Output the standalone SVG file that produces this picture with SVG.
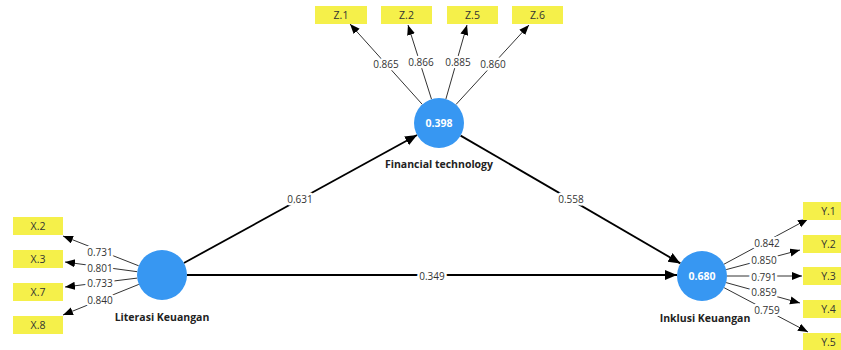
<svg xmlns="http://www.w3.org/2000/svg" width="841" height="350" viewBox="0 0 841 350">
<defs>
<marker id="ah" markerUnits="userSpaceOnUse" markerWidth="11" markerHeight="9" refX="10" refY="4" orient="auto">
<path d="M0,0 L10,4 L0,8 z" fill="#000"/>
</marker>
<marker id="ahb" markerUnits="userSpaceOnUse" markerWidth="13" markerHeight="11" refX="12" refY="5" orient="auto">
<path d="M0,0 L12,5 L0,10 z" fill="#000"/>
</marker>
</defs>
<style>
.ind rect{fill:#f5f04a;}
.ind text{font-family:"Segoe UI","Open Sans","Noto Sans",sans-serif;font-size:10.5px;fill:#333;text-anchor:middle;dominant-baseline:central;}
.lv circle{fill:#3797f2;}
.lv .v{font-family:"Open Sans","Noto Sans",sans-serif;font-size:10.5px;font-weight:bold;fill:#fff;text-anchor:middle;dominant-baseline:central;}
.lv .n{font-family:"Open Sans","Noto Sans",sans-serif;font-size:10.5px;font-weight:bold;fill:#222;text-anchor:middle;dominant-baseline:central;}
.ld{stroke:#333;stroke-width:1;fill:none;marker-end:url(#ah);}
.st{stroke:#000;stroke-width:1.8;fill:none;marker-end:url(#ahb);}
.lab{font-family:"Segoe UI","Open Sans","Noto Sans",sans-serif;font-size:10px;fill:#333;text-anchor:middle;dominant-baseline:central;stroke:#fff;stroke-width:5;paint-order:stroke;stroke-linejoin:round;}
</style>
<rect width="841" height="350" fill="#fff"/>
<g id="connectors">
<line class="st" x1="183.9" y1="263" x2="417.1" y2="135"/>
<line class="st" x1="460.6" y1="135.6" x2="680.4" y2="263.4"/>
<line class="st" x1="187" y1="275" x2="677" y2="275"/>
<line class="ld" x1="422.3" y1="104.4" x2="350" y2="24"/>
<line class="ld" x1="431.5" y1="99.2" x2="408" y2="25"/>
<line class="ld" x1="445.9" y1="99" x2="467" y2="25"/>
<line class="ld" x1="455.9" y1="104.6" x2="529" y2="25"/>
<line class="ld" x1="138.7" y1="265.8" x2="63" y2="236"/>
<line class="ld" x1="137.2" y1="271.7" x2="65" y2="262"/>
<line class="ld" x1="137.2" y1="278.1" x2="65" y2="287"/>
<line class="ld" x1="138.8" y1="284.4" x2="63" y2="315"/>
<line class="ld" x1="724" y1="264.2" x2="808" y2="219"/>
<line class="ld" x1="726.2" y1="269.6" x2="800" y2="250"/>
<line class="ld" x1="727" y1="276" x2="802" y2="276"/>
<line class="ld" x1="726.1" y1="282.6" x2="800" y2="303"/>
<line class="ld" x1="724.1" y1="287.7" x2="808" y2="332"/>
<text class="lab" x="300" y="199">0.631</text>
<text class="lab" x="571" y="199">0.558</text>
<text class="lab" x="432" y="276">0.349</text>
<text class="lab" x="386" y="64">0.865</text>
<text class="lab" x="421" y="62">0.866</text>
<text class="lab" x="458" y="62">0.885</text>
<text class="lab" x="493" y="64">0.860</text>
<text class="lab" x="100" y="252">0.731</text>
<text class="lab" x="100" y="268">0.801</text>
<text class="lab" x="100" y="283">0.733</text>
<text class="lab" x="100" y="300">0.840</text>
<text class="lab" x="767" y="243">0.842</text>
<text class="lab" x="764" y="260">0.850</text>
<text class="lab" x="764" y="277">0.791</text>
<text class="lab" x="764" y="292">0.859</text>
<text class="lab" x="767" y="310">0.759</text>
</g>
<g id="fintech" class="lv"><circle cx="439" cy="123" r="25"/><text class="v" x="439" y="123">0.398</text><text class="n" x="439" y="164">Financial technology</text></g>
<g id="literasi" class="lv"><circle cx="162" cy="275" r="25"/><text class="n" x="162" y="317">Literasi Keuangan</text></g>
<g id="inklusi" class="lv"><circle cx="702" cy="276" r="25"/><text class="v" x="702" y="276">0.680</text><text class="n" x="705" y="318">Inklusi Keuangan</text></g>
<g id="Z1" class="ind"><rect x="315" y="6" width="52" height="18"/><text x="341" y="15">Z.1</text></g>
<g id="Z2" class="ind"><rect x="381" y="6" width="51" height="18"/><text x="406.5" y="15">Z.2</text></g>
<g id="Z5" class="ind"><rect x="447" y="6" width="51" height="18"/><text x="472.5" y="15">Z.5</text></g>
<g id="Z6" class="ind"><rect x="512" y="6" width="51" height="18"/><text x="537.5" y="15">Z.6</text></g>
<g id="X2" class="ind"><rect x="13" y="217" width="50" height="18"/><text x="38" y="226">X.2</text></g>
<g id="X3" class="ind"><rect x="13" y="250" width="50" height="18"/><text x="38" y="259">X.3</text></g>
<g id="X7" class="ind"><rect x="13" y="283" width="50" height="18"/><text x="38" y="292">X.7</text></g>
<g id="X8" class="ind"><rect x="13" y="316" width="50" height="18"/><text x="38" y="325">X.8</text></g>
<g id="Y1" class="ind"><rect x="803" y="202" width="51" height="18"/><text x="828.5" y="211">Y.1</text></g>
<g id="Y2" class="ind"><rect x="803" y="235" width="51" height="18"/><text x="828.5" y="244">Y.2</text></g>
<g id="Y3" class="ind"><rect x="803" y="267" width="51" height="18"/><text x="828.5" y="276">Y.3</text></g>
<g id="Y4" class="ind"><rect x="803" y="300" width="51" height="18"/><text x="828.5" y="309">Y.4</text></g>
<g id="Y5" class="ind"><rect x="803" y="333" width="51" height="18"/><text x="828.5" y="342">Y.5</text></g>
</svg>
